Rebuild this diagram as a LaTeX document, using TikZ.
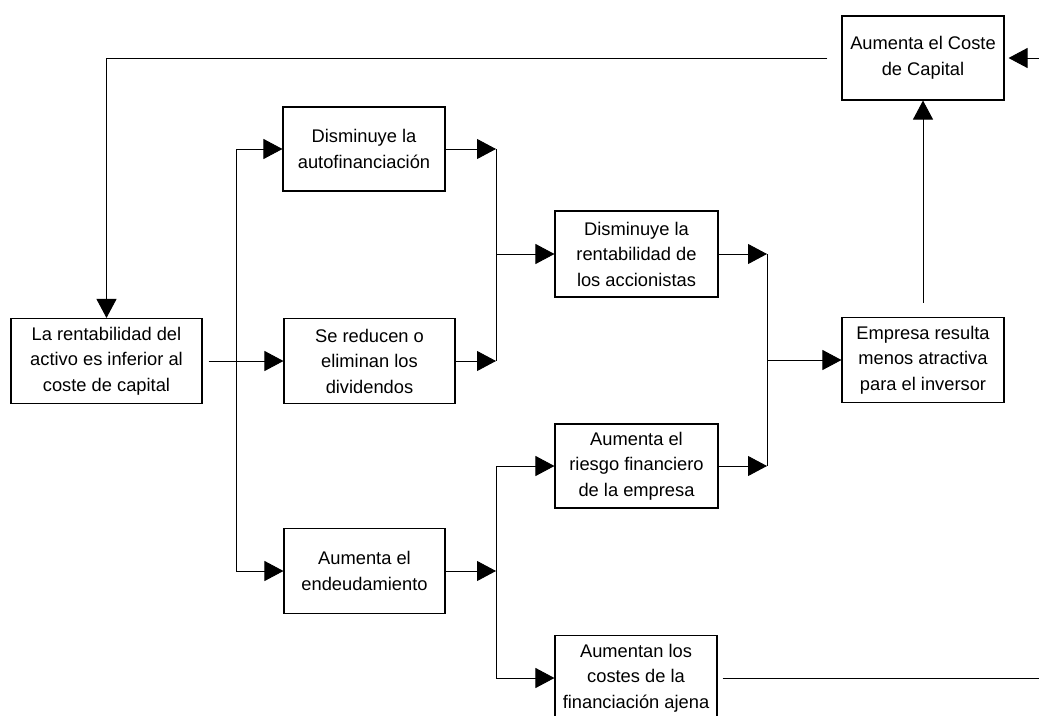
\documentclass[tikz,border=0pt]{standalone}
\usepackage{fontspec}
\setmainfont{Liberation Sans}
\usetikzlibrary{arrows.meta}

\tikzset{
  stepbox/.style={draw, line width=1.1pt, inner sep=0pt, align=center,
    font=\fontsize{18.3}{25.5}\selectfont},
  link/.style={line width=0.9pt},
  arr/.style={link, -{Triangle[length=19pt, width=20pt]}},
}

\begin{document}
\begin{tikzpicture}[x=1pt, y=-1pt]
\useasboundingbox (0,0) rectangle (1039,715);
\clip (0,0) rectangle (1039,715);

% boxes
\node[stepbox, minimum width=162pt, minimum height=84pt] (coste)   at (923,58)
  {Aumenta el Coste\\de Capital};
\node[stepbox, minimum width=162pt, minimum height=84pt] (autofin) at (364,149)
  {Disminuye la\\autofinanciación};
\node[stepbox, minimum width=163pt, minimum height=86pt] (rentab)  at (636.5,254)
  {Disminuye la\\rentabilidad de\\los accionistas};
\node[stepbox, minimum width=191pt, minimum height=85pt] (larent)  at (106.5,361)
  {La rentabilidad del\\activo es inferior al\\coste de capital};
\node[stepbox, minimum width=171pt, minimum height=85pt] (reducen) at (369.5,361)
  {Se reducen o\\eliminan los\\dividendos};
\node[stepbox, minimum width=162pt, minimum height=85pt] (empresa) at (923,360)
  {Empresa resulta\\menos atractiva\\para el inversor};
\node[stepbox, minimum width=163pt, minimum height=84pt] (riesgo)  at (636.5,466)
  {Aumenta el\\riesgo financiero\\de la empresa};
\node[stepbox, minimum width=161pt, minimum height=85pt] (endeud)  at (364.5,571)
  {Aumenta el\\endeudamiento};
\node[stepbox, minimum width=162pt, minimum height=85pt] (costes)  at (636,678)
  {Aumentan los\\costes de la\\financiación ajena};

% junction points of the connector trees
\coordinate (t1) at (236,149);
\coordinate (t2) at (236,571);
\coordinate (j2a) at (496,149);
\coordinate (j2b) at (496,361);
\coordinate (j3) at (496,571);
\coordinate (j4a) at (767,254);
\coordinate (j4b) at (767,466);
\coordinate (edgeA) at (1039,58);
\coordinate (edgeB) at (1039,678);

% feedback loop from the cost of capital
\draw[arr, shorten <=14pt] (coste.west) -| (larent.north);

% first split
\draw[arr, shorten <=6pt] (larent.east) -- (reducen.west);
\draw[arr] (t2) |- (autofin.west);
\draw[arr] (t1) |- (endeud.west);

% towards shareholders' return
\draw[arr] (autofin.east) -- (j2a);
\draw[arr] (reducen.east) -- (j2b);
\draw[link] (j2a) -- (j2b);
\draw[arr] (j2a |- rentab.west) -- (rentab.west);

% effects of higher debt
\draw[arr] (endeud.east) -- (j3);
\draw[arr] (j3 |- costes.west) |- (riesgo.west);
\draw[arr] (j3 |- costes.west) -- (costes.west);

% towards investor appeal
\draw[arr] (rentab.east) -- (j4a);
\draw[arr] (riesgo.east) -- (j4b);
\draw[link] (j4a) -- (j4b);
\draw[arr] (j4a |- empresa.west) -- (empresa.west);

% up to the cost of capital
\draw[arr, shorten <=14pt] (empresa.north) -- (coste.south);

% connectors running off the right edge
\draw[arr, shorten >=4pt] (edgeA) -- (coste.east);
\draw[link, shorten <=5pt] (costes.east) -- (edgeB);
\end{tikzpicture}
\end{document}
